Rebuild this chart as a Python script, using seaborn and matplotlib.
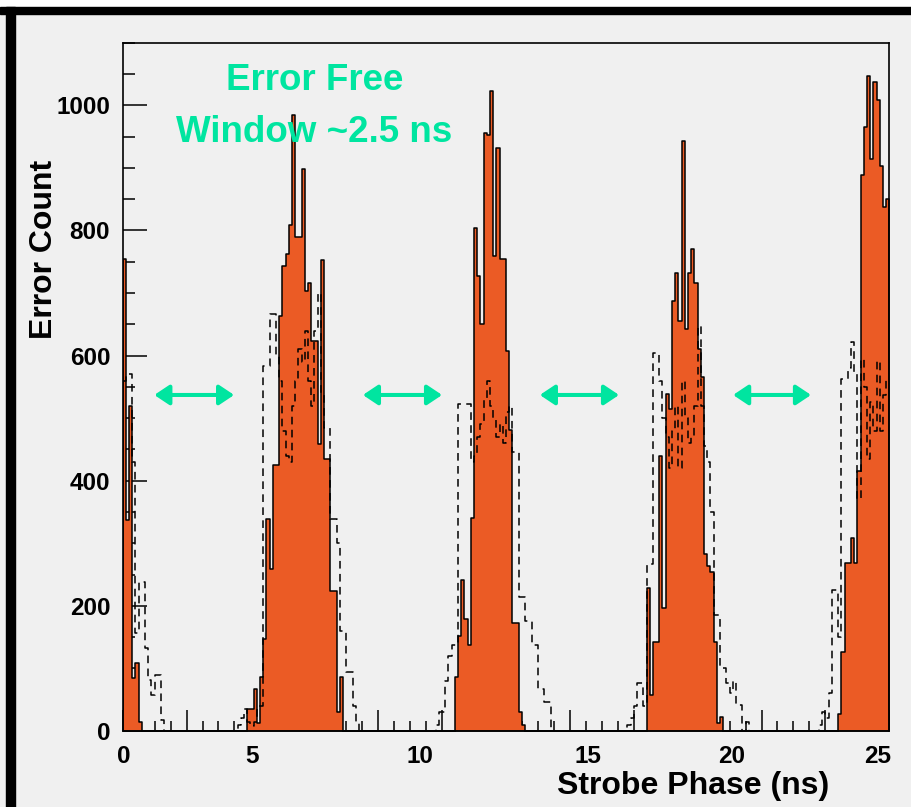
import numpy as np
import pandas as pd
import seaborn as sns
import matplotlib.pyplot as plt
from matplotlib.patches import Rectangle
from matplotlib.ticker import MultipleLocator

# frame axis runs 0-24 with 240 bins of 0.1
n_bins = 240
x_max = 24

# filled histogram: (first bin, counts)
solid_a = (0, [755, 337, 520, 85, 108, 15])
solid_b = (39, [35, 35, 67, 12, 87, 147, 339, 259, 425, 425, 663, 743, 763, 809, 984,
                789, 789, 898, 703, 716, 623, 623, 458, 752, 435, 435, 223, 223, 31, 87])
solid_c = (104, [87, 151, 242, 179, 137, 340, 804, 727, 650, 955, 952, 1022, 759, 931,
                 755, 755, 607, 481, 172, 172, 31, 10])
solid_d = (164, [228, 58, 142, 142, 440, 196, 539, 514, 687, 732, 655, 943, 642, 732,
                 770, 716, 610, 565, 283, 264, 254, 142, 13, 23])
solid_e = (224, [27, 126, 269, 269, 309, 269, 415, 888, 965, 1046, 914, 1037, 1009, 903,
                 837, 850])

# dashed histogram
dash_a = (0, [560, 571, 571, 430, 156, 238, 238, 132, 81, 57, 89, 89, 18])
dash_b = (36, [10, 20, 35, 15, 8, 15, 40, 40, 584, 584, 667, 667, 600, 560, 480, 440, 430,
               520, 560, 610, 590, 640, 560, 520, 640, 700, 540, 485, 485, 339, 339, 300,
               160, 160, 94, 94, 40, 12])
dash_c = (98, [10, 30, 30, 80, 120, 137, 137, 523, 523, 523, 523, 430, 440, 470, 490, 530,
               560, 520, 500, 470, 490, 460, 510, 520, 446, 446, 214, 214, 175, 175, 137,
               137, 67, 67, 46, 46])
dash_d = (158, [10, 20, 40, 77, 77, 40, 267, 267, 604, 604, 560, 500, 470, 420, 480, 520,
                420, 560, 500, 460, 470, 520, 648, 520, 456, 430, 350, 186, 186, 100, 100,
                77, 60, 80, 42, 42, 0, 15])
dash_e = (218, [10, 30, 20, 60, 225, 225, 150, 562, 562, 580, 621, 574, 371, 595, 550, 434,
                526, 480, 592, 480, 537, 562])

# hand placed axis numbers (frame units) and their text
xlabel_pos = [0.04, 4.06, 9.31, 14.57, 19.07, 23.62]
xlabel_txt = ['0', '5', '10', '15', '20', '25']

# error free windows
arrow_spans = [(0.99, 3.49), (7.52, 10.0), (13.06, 15.54), (19.11, 21.55)]
arrow_level = 537

orange = '#EB5B25'
green = '#00E5A0'
bg = '#F0F0F0'


def fill_bins(parts):
    out = np.zeros(n_bins)
    for start, vals in parts:
        out[start:start + len(vals)] = vals
    return out


bin_w = x_max / n_bins
df = pd.DataFrame({
    'phase': (np.arange(n_bins) + 0.5) * bin_w,
    'solid': fill_bins([solid_a, solid_b, solid_c, solid_d, solid_e]),
    'dashed': fill_bins([dash_a, dash_b, dash_c, dash_d, dash_e]),
})

sns.set_theme(style='ticks')
plt.rcParams['font.family'] = ['Liberation Sans', 'DejaVu Sans']
plt.rcParams['font.weight'] = 'bold'
for key in ['text.color', 'axes.labelcolor', 'xtick.color', 'ytick.color',
            'xtick.labelcolor', 'ytick.labelcolor']:
    plt.rcParams[key] = 'black'

fig = plt.figure(figsize=(9.12, 8.07), dpi=100, facecolor=bg)
ax = fig.add_axes([0.1345, 0.0942, 0.8406, 0.8529], facecolor=bg)

sns.histplot(data=df, x='phase', weights='solid', bins=n_bins, binrange=(0, x_max),
             element='step', fill=True, color=orange, edgecolor='black',
             linewidth=1.1, alpha=1, ax=ax)
sns.histplot(data=df, x='phase', weights='dashed', bins=n_bins, binrange=(0, x_max),
             element='step', fill=False, color='black', linewidth=1.1,
             linestyle=(0, (5, 3.5)), ax=ax)

ax.set_xlim(0, x_max)
ax.set_ylim(0, 1100)
for s in ax.spines.values():
    s.set_visible(True)
    s.set_color('black')
    s.set_linewidth(1.2)

ax.xaxis.set_major_locator(MultipleLocator(2))
ax.xaxis.set_minor_locator(MultipleLocator(0.5))
ax.yaxis.set_major_locator(MultipleLocator(200))
ax.yaxis.set_minor_locator(MultipleLocator(50))
ax.tick_params(axis='x', which='major', direction='in', length=15, width=1.1,
               color='black', labelbottom=False)
ax.tick_params(axis='x', which='minor', direction='in', length=7.5, width=1.1, color='black')
ax.tick_params(axis='y', which='major', direction='in', length=17, width=1.1,
               color='black', labelcolor='black', labelsize=17.5, pad=9)
ax.tick_params(axis='y', which='minor', direction='in', length=8.5, width=1.1, color='black')

sec = ax.secondary_xaxis('bottom')
sec.set_xticks(xlabel_pos, xlabel_txt)
sec.tick_params(length=0, pad=10, labelsize=17.5, labelcolor='black')
sec.spines['bottom'].set_visible(False)

ax.set_xlabel('Strobe Phase (ns)', fontsize=23, fontweight='bold', va='center', color='black')
ax.xaxis.set_label_coords(0.744, -0.080)
ax.set_ylabel('Error Count', fontsize=23, fontweight='bold', va='center', color='black')
ax.yaxis.set_label_coords(-0.102, 0.70)

ax.text(6.0, 1025, 'Error Free', color=green, fontsize=26.5, fontweight='bold',
        ha='center', va='baseline')
ax.text(6.0, 941, 'Window ~2.5 ns', color=green, fontsize=26.5, fontweight='bold',
        ha='center', va='baseline')

for x0, x1 in arrow_spans:
    ax.annotate('', xy=(x1, arrow_level), xytext=(x0, arrow_level),
                arrowprops=dict(arrowstyle='<|-|>,head_length=0.9,head_width=0.6',
                                color=green, lw=2.9, mutation_scale=10,
                                shrinkA=0, shrinkB=0))

# slide frame
H, W = 807, 912
fig.patches.append(Rectangle((0, 1 - 7 / H), 1, 7 / H, transform=fig.transFigure,
                             color='white', zorder=5))
fig.patches.append(Rectangle((0, 1 - 14 / H), 1, 7 / H, transform=fig.transFigure,
                             color='black', zorder=6))
fig.patches.append(Rectangle((6 / W, 0), 8.5 / W, 1 - 7 / H, transform=fig.transFigure,
                             color='black', zorder=6))

fig.savefig('out.png', dpi=100, facecolor=bg)
